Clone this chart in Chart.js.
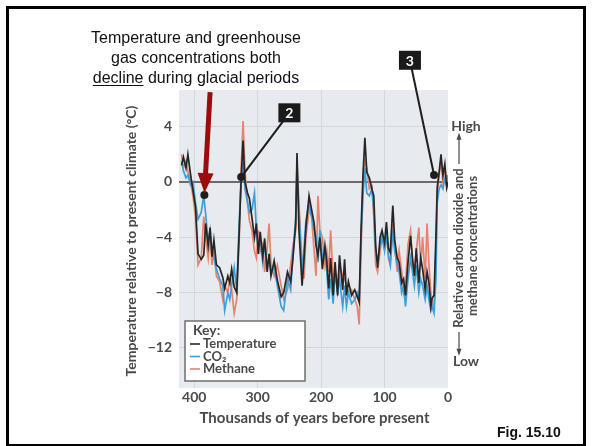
<!DOCTYPE html>
<html><head><meta charset="utf-8">
<script src="https://cdn.jsdelivr.net/npm/chart.js@4.4.0/dist/chart.umd.min.js"></script>
<style>
html,body{margin:0;padding:0;background:#fff;}
#wrap{position:relative;width:592px;height:446px;overflow:hidden;}
#frame{position:absolute;left:6px;top:6px;width:580px;height:441px;box-sizing:border-box;border:3px solid #000;pointer-events:none;}
#note{position:absolute;left:46px;top:28px;width:300px;text-align:center;font:16px "Liberation Sans",Arial,sans-serif;line-height:20px;color:#111;}
#note u{text-underline-offset:2px;}
#fig{position:absolute;left:497px;top:424px;font:bold 14px "Liberation Sans",Arial,sans-serif;color:#111;}
canvas{position:absolute;left:0;top:0;}
</style></head>
<body><div id="wrap"><canvas id="c" width="592" height="446"></canvas>
<div id="note">Temperature and greenhouse<br>gas concentrations both<br><u>decline</u> during glacial periods</div>
<div id="fig">Fig. 15.10</div><div id="frame"></div></div>
<script>
// Thousands of years before present
const ages = [
 420,417,413,410,406,402,398,394,389,385,
 382,378,375,372,369,365,360,355,352,347,
 344,341,337,333,329,326,323,320,316,313,
 309,305,302,299,296,292,289,285,282,279,
 274,269,263,259,253,248,244,240,238,235,
 230,227,224,219,215,211,208,205,202,198,
 194,191,188,185,181,178,174,171,166,163,
 160,157,152,147,143,140,137,134,131,128,
 124,120,117,114,111,107,104,100,97,94,
 91,87,84,80,77,73,70,67,63,59,
 56,53,50,46,43,40,36,33,30,27,
 25,22,19,17,14,11,8,5,2,0];
// Temperature relative to present climate (°C)
const temperature = [
 1.2,1.8,1.0,2.0,0.6,-0.6,-1.8,-5.2,-5.6,-5.3,
 -3.0,-4.6,-3.3,-5.4,-4.2,-6.0,-6.2,-6.9,-7.7,-6.8,
 -7.3,-6.3,-7.6,-8.0,-3.5,0.3,3.0,0.0,-0.8,-1.2,
 -2.6,-4.0,-3.0,-5.2,-3.6,-5.4,-4.1,-6.5,-5.2,-6.8,
 -5.7,-7.1,-8.3,-8.0,-6.5,-7.2,-5.3,-3.0,2.1,-3.4,
 -7.5,-5.6,-3.3,-1.0,-2.0,-3.0,-4.6,-5.3,-4.0,-6.3,
 -4.6,-5.8,-7.7,-5.5,-8.2,-5.8,-8.2,-5.3,-7.8,-5.6,
 -8.2,-7.2,-8.2,-7.8,-8.3,-8.7,-3.4,0.5,3.2,0.7,
 0.3,-0.5,-1.0,-4.6,-6.2,-4.0,-3.5,-4.4,-2.9,-4.8,
 -5.1,-1.7,-4.2,-5.5,-5.8,-7.3,-7.0,-8.2,-5.8,-3.9,
 -5.5,-6.8,-4.8,-7.3,-5.5,-6.3,-7.8,-6.5,-7.3,-9.0,
 -8.4,-8.2,-3.9,-0.4,0.7,2.0,0.5,1.3,-0.4,0.0];
// Relative CO2 (plotted on the temperature scale)
const co2 = [
 1.5,0.8,0.3,0.5,-0.2,0.0,-1.5,-2.7,-2.2,-1.0,
 -2.3,-4.5,-3.5,-4.8,-5.5,-6.3,-7.0,-7.5,-9.3,-8.0,
 -8.5,-7.5,-6.2,-7.8,-2.8,0.0,1.5,-0.5,-1.5,-2.2,
 -2.0,-0.8,-3.5,-4.8,-4.2,-5.8,-4.5,-6.0,-5.5,-6.5,
 -6.2,-7.5,-9.0,-9.3,-7.0,-7.8,-5.0,-2.5,1.0,-2.0,
 -6.5,-4.8,-2.8,-1.5,-2.5,-3.5,-4.0,-5.8,-3.5,-5.5,
 -5.0,-6.5,-8.5,-7.0,-8.8,-6.5,-8.0,-7.0,-9.0,-7.5,
 -9.0,-8.0,-8.8,-8.5,-8.0,-8.5,-4.0,-1.0,1.0,-0.8,
 -1.0,-0.5,-2.0,-5.0,-5.8,-4.5,-4.0,-5.0,-3.8,-5.2,
 -6.0,-3.5,-5.0,-6.0,-6.5,-8.0,-7.5,-9.0,-7.0,-5.5,
 -6.5,-7.5,-6.0,-8.0,-7.0,-7.5,-8.5,-7.5,-8.5,-9.3,
 -9.0,-9.5,-7.0,-1.5,-0.5,-0.2,-0.5,0.2,-0.3,0.5];
// Relative methane (plotted on the temperature scale)
const methane = [
 2.0,1.0,1.5,0.8,0.0,-1.0,-2.5,-6.0,-5.5,-2.5,
 -4.0,-5.5,-3.8,-6.0,-5.0,-6.8,-7.2,-8.5,-7.5,-8.0,
 -7.0,-7.8,-9.5,-8.5,-4.0,1.0,4.4,0.8,-1.5,-2.8,
 -3.5,-5.0,-5.5,-3.5,-5.0,-4.5,-6.5,-4.8,-3.0,-6.0,
 -6.8,-6.0,-7.5,-8.5,-7.8,-6.0,-4.5,-3.5,1.5,-1.5,
 -6.0,-7.0,-4.0,-2.0,-2.5,-5.0,-6.8,-1.0,-3.5,-4.0,
 -6.0,-5.0,-6.5,-3.5,-7.0,-6.5,-7.5,-6.0,-6.8,-7.0,
 -7.5,-8.0,-7.8,-8.5,-9.0,-10.3,-5.0,0.0,1.5,1.0,
 -0.5,-0.3,-2.5,-6.0,-6.5,-5.0,-4.0,-4.8,-3.5,-5.5,
 -6.0,-3.0,-4.5,-6.5,-5.0,-6.5,-8.0,-7.5,-4.5,-3.5,
 -6.0,-6.5,-5.0,-3.3,-6.0,-4.0,-7.0,-3.0,-6.0,-8.0,
 -8.8,-9.0,-5.0,-1.0,0.5,1.5,0.0,1.0,0.0,0.5];
const seriesLabels = ['Temperature','CO\u2082','Methane'];
const xTicks = [400,300,200,100,0];
const yTicks = [4,0,-4,-8,-12];
// annotation anchors (data coordinates)
const arrowTail = [375, 6.5], arrowTip = [384, -0.95];
const callouts = [{label:'2', box:[250,5.0], point:[326,0.35]},
                  {label:'3', box:[60,8.8], point:[22,0.5]}];

const FG = '#4a4a4a';
const LFONT = 'Lato, "Open Sans", sans-serif';
const colors = ['#262626','#3d9fd8','#e8826c'];
const pts = arr => ages.map((a,i)=>({x:a,y:arr[i]}));

const deco = {
  id:'deco',
  beforeDraw(chart){
    const {ctx, chartArea:a} = chart;
    ctx.save(); ctx.fillStyle='#e7eaee';
    ctx.fillRect(a.left, a.top, a.right-a.left, a.bottom-a.top);
    ctx.restore();
  },
  afterDatasetsDraw(chart){
    const {ctx, chartArea:a, scales:{x,y}} = chart;
    const P = v => [x.getPixelForValue(v[0]), y.getPixelForValue(v[1])];
    ctx.save();
    // callouts
    callouts.forEach(c=>{
      const [bx,by]=P(c.box), [qx,qy]=P(c.point);
      ctx.strokeStyle='#1e1e1e'; ctx.lineWidth=2;
      ctx.beginPath(); ctx.moveTo(bx,by); ctx.lineTo(qx,qy); ctx.stroke();
      ctx.fillStyle='#1e1e1e'; ctx.beginPath(); ctx.arc(qx,qy,4,0,Math.PI*2); ctx.fill();
      ctx.fillStyle='#1a1a1a'; ctx.fillRect(bx-11,by-9.5,22,19);
      ctx.fillStyle='#fff'; ctx.font='bold 14px '+LFONT; ctx.textAlign='center'; ctx.textBaseline='middle';
      ctx.fillText(c.label,bx,by+1);
    });
    // red arrow
    const [tx,ty]=P(arrowTail), [hx,hy]=P(arrowTip);
    ctx.fillStyle='#1e1e1e'; ctx.beginPath(); ctx.arc(hx,hy,4,0,Math.PI*2); ctx.fill();
    const dx=hx-tx, dy=hy-ty, L=Math.hypot(dx,dy), ux=dx/L, uy=dy/L;
    const hl=20, hw=8, ex=hx-ux*2, ey=hy-uy*2;
    const bx=ex-ux*hl, by=ey-uy*hl;
    ctx.strokeStyle='#9e0b0b'; ctx.lineWidth=5; ctx.lineCap='butt';
    ctx.beginPath(); ctx.moveTo(tx,ty); ctx.lineTo(bx+ux*2,by+uy*2); ctx.stroke();
    ctx.fillStyle='#9e0b0b'; ctx.beginPath();
    ctx.moveTo(ex,ey); ctx.lineTo(bx-uy*hw,by+ux*hw); ctx.lineTo(bx+uy*hw,by-ux*hw); ctx.closePath(); ctx.fill();
    // legend
    const lx=a.left+6, ly=a.bottom-67, lw=120, lh=60;
    ctx.fillStyle='#ffffff'; ctx.fillRect(lx,ly,lw,lh);
    ctx.strokeStyle='#6e6e6e'; ctx.lineWidth=1.5; ctx.strokeRect(lx,ly,lw,lh);
    ctx.fillStyle=FG; ctx.textAlign='left'; ctx.textBaseline='middle';
    ctx.font='bold 14px '+LFONT; ctx.fillText('Key:',lx+8,ly+9);
    ctx.font='bold 13px '+LFONT;
    seriesLabels.forEach((s,i)=>{
      const yy=ly+23+i*12.5;
      ctx.strokeStyle=colors[i]; ctx.lineWidth=1.6;
      ctx.beginPath(); ctx.moveTo(lx+5,yy); ctx.lineTo(lx+15,yy); ctx.stroke();
      ctx.fillStyle=FG; ctx.fillText(s,lx+18,yy);
    });
    // axis titles
    ctx.fillStyle=FG; ctx.textAlign='center'; ctx.textBaseline='middle';
    ctx.font='bold 15px '+LFONT;
    ctx.fillText('Thousands of years before present',(a.left+a.right)/2+1,a.bottom+30);
    ctx.save(); ctx.translate(131,(a.top+a.bottom)/2+2); ctx.rotate(-Math.PI/2);
    ctx.font='bold 14px '+LFONT; ctx.fillText('Temperature relative to present climate (\u00b0C)',0,0);
    ctx.restore();
    // right axis
    const rx=a.right+18;
    ctx.font='bold 14px '+LFONT;
    ctx.fillText('High',rx,y.getPixelForValue(4));
    ctx.fillText('Low',rx,y.getPixelForValue(-13));
    ctx.font='bold 13px '+LFONT;
    const c1=rx-7, c2=rx+7, cy=(a.top+a.bottom)/2+9;
    ctx.save(); ctx.translate(c1,cy); ctx.rotate(-Math.PI/2); ctx.fillText('Relative carbon dioxide and',0,0); ctx.restore();
    ctx.save(); ctx.translate(c2,cy-2); ctx.rotate(-Math.PI/2); ctx.fillText('methane concentrations',0,0); ctx.restore();
    ctx.strokeStyle=FG; ctx.lineWidth=1.2;
    const up1=y.getPixelForValue(4)+8, up2=cy-84, dn1=cy+84, dn2=y.getPixelForValue(-13)-8;
    ctx.beginPath(); ctx.moveTo(c1,up2); ctx.lineTo(c1,up1); ctx.moveTo(c1,dn1); ctx.lineTo(c1,dn2); ctx.stroke();
    ctx.fillStyle=FG; ctx.beginPath();
    ctx.moveTo(c1,up1-2); ctx.lineTo(c1-2.5,up1+5); ctx.lineTo(c1+2.5,up1+5); ctx.closePath(); ctx.fill();
    ctx.beginPath(); ctx.moveTo(c1,dn2+2); ctx.lineTo(c1-2.5,dn2-5); ctx.lineTo(c1+2.5,dn2-5); ctx.closePath(); ctx.fill();
    ctx.restore();
  }
};

new Chart(document.getElementById('c'), {
  type:'line',
  data:{datasets:[
    {label:seriesLabels[0], data:pts(temperature), borderColor:colors[0], borderWidth:1.7},
    {label:seriesLabels[1], data:pts(co2), borderColor:colors[1], borderWidth:1.7},
    {label:seriesLabels[2], data:pts(methane), borderColor:colors[2], borderWidth:1.7}
  ]},
  options:{
    responsive:false, animation:false, devicePixelRatio:1,
    elements:{point:{radius:0}, line:{tension:0}},
    layout:{padding:{left:0, top:90, right:144, bottom:0}},
    plugins:{legend:{display:false}, tooltip:{enabled:false}},
    scales:{
      x:{type:'linear', reverse:true, min:0, max:424,
         afterFit(s){ s.height = 58; },
         afterBuildTicks(s){ s.ticks = xTicks.map(v=>({value:v})); },
         ticks:{color:FG, font:{family:LFONT, size:14, weight:'bold'}, padding:1, maxRotation:0},
         grid:{drawTicks:false, color:c=> (c.tick && c.tick.value>0) ? '#d3d7dc' : 'rgba(0,0,0,0)'},
         border:{display:false}},
      y:{min:-14.9, max:6.65,
         afterFit(s){ s.width = 179; },
         afterBuildTicks(s){ s.ticks = yTicks.map(v=>({value:v})); },
         ticks:{color:FG, font:{family:LFONT, size:14, weight:'bold'}, padding:7,
                callback:v=>String(v).replace('-','\u2212')},
         grid:{drawTicks:false, color:c=> (c.tick && c.tick.value===0) ? '#6a6a6a' : '#d3d7dc',
               lineWidth:c=> (c.tick && c.tick.value===0) ? 2 : 1},
         border:{display:false}}
    }
  },
  plugins:[deco]
});
</script>
</body></html>
